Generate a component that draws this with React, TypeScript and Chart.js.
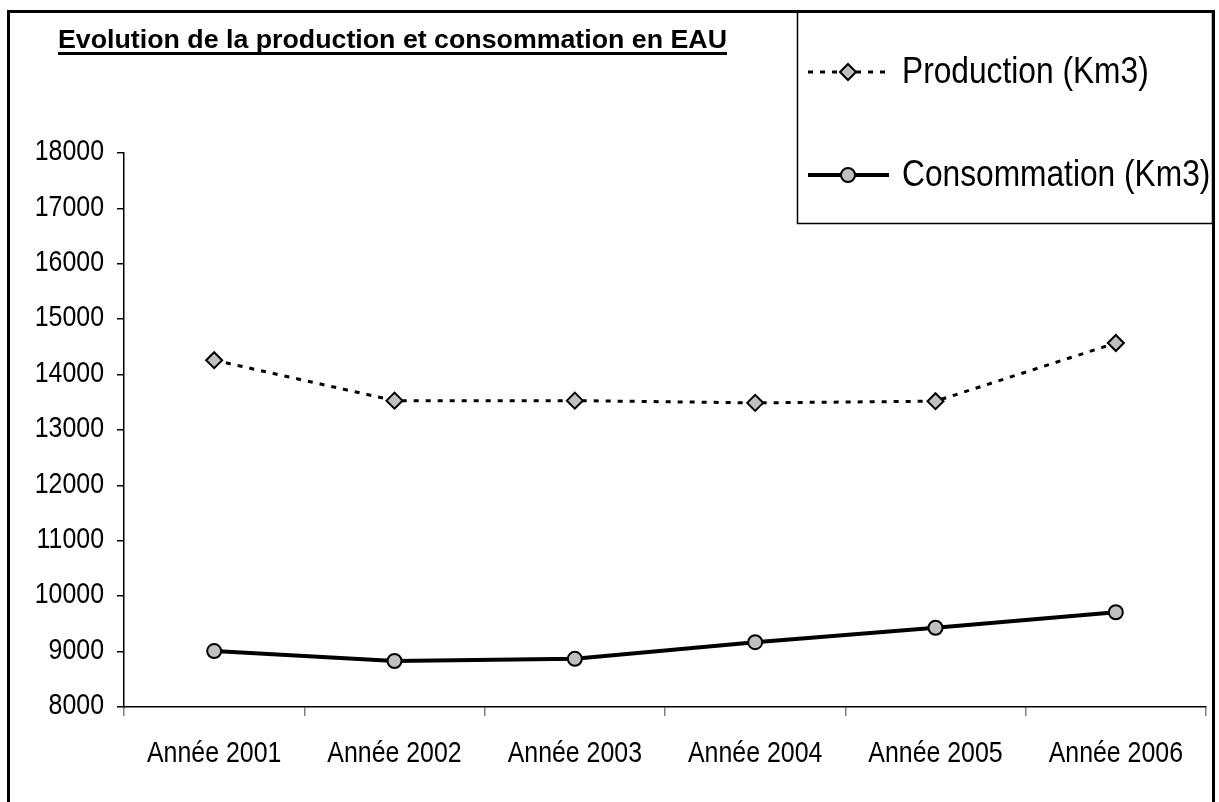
import React, { useEffect, useRef } from "react";
import { Chart, registerables } from "chart.js";

Chart.register(...registerables);

const categories = ["Année 2001", "Année 2002", "Année 2003", "Année 2004", "Année 2005", "Année 2006"];
const production = [14260, 13530, 13530, 13490, 13520, 14570];
const consommation = [9010, 8830, 8870, 9170, 9430, 9710];
const seriesNames = ["Production (Km3)", "Consommation (Km3)"];
const titleText = "Evolution de la production et consommation en EAU";
const yMin = 8000;
const yMax = 18000;
const yStep = 1000;

const FONT = "'Liberation Sans', Arial, sans-serif";

function narrowText(
  ctx: CanvasRenderingContext2D,
  text: string,
  x: number,
  y: number,
  sx: number,
  align: CanvasTextAlign,
  baseline: CanvasTextBaseline
) {
  ctx.save();
  ctx.translate(x, y);
  ctx.scale(sx, 1);
  ctx.textAlign = align;
  ctx.textBaseline = baseline;
  ctx.fillText(text, 0, 0);
  ctx.restore();
}

const decorPlugin = {
  id: "decor",
  afterDraw(chart: any) {
    const ctx = chart.ctx as CanvasRenderingContext2D;
    ctx.save();
    // outer frame
    ctx.strokeStyle = "#000";
    ctx.lineWidth = 3;
    ctx.strokeRect(8.5, 11.5, 1205, 800);
    // title
    ctx.fillStyle = "#000";
    ctx.font = `bold 26px ${FONT}`;
    const tw0 = ctx.measureText(titleText).width;
    const titleW = 669;
    narrowText(ctx, titleText, 58, 48, titleW / tw0, "left", "alphabetic");
    ctx.fillRect(58, 52, titleW, 3);
    // tick labels
    ctx.font = `30px ${FONT}`;
    const ys = chart.scales.y;
    ys.ticks.forEach((t: any) => {
      narrowText(ctx, String(t.value), 104, ys.getPixelForValue(t.value) - 1, 0.83, "right", "middle");
    });
    const xs = chart.scales.x;
    categories.forEach((c, i) => {
      narrowText(ctx, c, xs.getPixelForValue(i), 762, 0.83, "center", "alphabetic");
    });
    // legend box
    ctx.lineWidth = 1.5;
    ctx.strokeStyle = "#000";
    ctx.strokeRect(797.5, 11.5, 415, 212);
    const ds = chart.data.datasets;
    const rows = [72, 175];
    ds.forEach((d: any, i: number) => {
      const y = rows[i];
      ctx.save();
      ctx.strokeStyle = d.borderColor;
      ctx.lineWidth = d.borderWidth;
      ctx.setLineDash(d.borderDash || []);
      ctx.beginPath();
      ctx.moveTo(808, y);
      ctx.lineTo(889, y);
      ctx.stroke();
      ctx.setLineDash([]);
      ctx.fillStyle = d.pointBackgroundColor;
      ctx.strokeStyle = d.pointBorderColor;
      ctx.lineWidth = d.pointBorderWidth;
      const r = d.pointRadius;
      ctx.beginPath();
      if (d.pointStyle === "rectRot") {
        ctx.moveTo(848, y - r);
        ctx.lineTo(848 + r, y);
        ctx.lineTo(848, y + r);
        ctx.lineTo(848 - r, y);
        ctx.closePath();
      } else {
        ctx.arc(848, y, r, 0, Math.PI * 2);
      }
      ctx.fill();
      ctx.stroke();
      ctx.restore();
      ctx.fillStyle = "#000";
      ctx.font = `37px ${FONT}`;
      narrowText(ctx, d.label, 902, y + 1, 0.857, "left", "middle");
    });
    ctx.restore();
  },
};

export default function App() {
  const ref = useRef<HTMLCanvasElement | null>(null);
  useEffect(() => {
    if (!ref.current) return;
    const chart = new Chart(ref.current, {
      type: "line",
      data: {
        labels: categories,
        datasets: [
          {
            label: seriesNames[0],
            data: production,
            borderColor: "#000",
            borderWidth: 3,
            borderDash: [5, 7],
            pointStyle: "rectRot",
            pointRadius: 8,
            pointBackgroundColor: "#c0c0c0",
            pointBorderColor: "#000",
            pointBorderWidth: 2,
            tension: 0,
          },
          {
            label: seriesNames[1],
            data: consommation,
            borderColor: "#000",
            borderWidth: 4,
            pointStyle: "circle",
            pointRadius: 7,
            pointBackgroundColor: "#c0c0c0",
            pointBorderColor: "#000",
            pointBorderWidth: 2,
            tension: 0,
          },
        ],
      },
      options: {
        animation: false,
        responsive: false,
        maintainAspectRatio: false,
        layout: { padding: { left: 0, top: 153, right: 13, bottom: 40 } },
        plugins: { legend: { display: false }, title: { display: false }, tooltip: { enabled: false } },
        scales: {
          x: {
            type: "category",
            offset: true,
            grid: { offset: true, drawOnChartArea: false, drawTicks: true, tickLength: 9, color: "#808080", lineWidth: 1.5 },
            border: { display: true, color: "#000", width: 1.5 },
            ticks: { display: false, autoSkip: false, maxRotation: 0 },
            afterFit: (s: any) => { s.height = 55; },
          },
          y: {
            min: yMin,
            max: yMax,
            grid: { drawOnChartArea: false, drawTicks: true, tickLength: 7, color: "#000", lineWidth: 1.5 },
            border: { display: true, color: "#000", width: 1.5 },
            ticks: { display: false, stepSize: yStep },
            afterFit: (s: any) => { s.width = 124; },
          },
        },
      },
      plugins: [decorPlugin],
    });
    return () => chart.destroy();
  }, []);
  return (
    <div style={{ position: "fixed", left: 0, top: 0, width: 1219, height: 802, background: "#fff" }}>
      <canvas ref={ref} width={1219} height={802} style={{ width: 1219, height: 802, display: "block" }} />
    </div>
  );
}
